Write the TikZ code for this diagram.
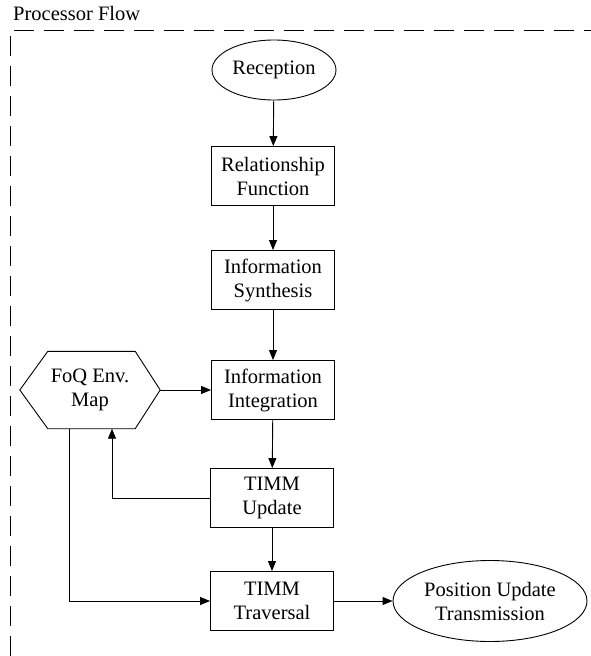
\documentclass[tikz,border=0pt]{standalone}
\usepackage{fontspec}
\setmainfont{Liberation Serif}
\usetikzlibrary{arrows.meta,shapes.geometric}
\begin{document}
\begin{tikzpicture}[x=1pt,y=-1pt,
  every node/.style={font=\fontsize{20.5}{24}\selectfont, align=center},
  stepbox/.style={draw, line width=0.9pt, minimum width=123pt, minimum height=59pt, inner sep=1pt},
  terminal/.style={draw, ellipse, line width=0.9pt, inner sep=0pt},
  flow/.style={draw, line width=0.9pt, -{Triangle[length=10pt,width=8pt]}},
  frame/.style={line width=0.9pt, dash pattern=on 20pt off 10pt}
]
\useasboundingbox (0,0) rectangle (591,656);

% dashed enclosure
\draw[frame] (14,30) -- (591,30);
\draw[frame] (10,36) -- (10,656);
\node[anchor=west, inner sep=0pt] (title) at (13,13) {Processor Flow};

% nodes
\node[terminal, minimum width=124pt, minimum height=60pt] (rec) at (274,70) {Reception};
\node[stepbox] (rel) at (273,176) {Relationship\\Function};
\node[stepbox] (syn) at (273,280) {Information\\Synthesis};
\node[stepbox] (int) at (273,390) {Information\\Integration};
\node[stepbox] (upd) at (272,498) {TIMM\\Update};
\node[stepbox] (trav) at (272,601) {TIMM\\Traversal};
\node[terminal, minimum width=194pt, minimum height=81pt] (pos) at (490,601) {Position Update\\Transmission};

% hexagonal map store
\node[minimum width=140pt, minimum height=77pt, inner sep=0pt] (map) at (90,390) {FoQ Env.\\Map};
\draw[line width=0.9pt] (map.west) -- ([xshift=28pt]map.north west) -- ([xshift=-25pt]map.north east)
  -- (map.east) -- ([xshift=-25pt]map.south east) -- ([xshift=28pt]map.south west) -- cycle;

% connectors
\draw[flow] (rec) -- (rel);
\draw[flow] (rel) -- (syn);
\draw[flow] (syn) -- (int);
\draw[flow] (int) -- (upd);
\draw[flow] (upd) -- (trav);
\draw[flow] (map.east) -- (int.west);
\draw[flow] (upd.west) -| ([xshift=22pt]map.south);
\draw[flow] ([xshift=-21pt]map.south) |- (trav.west);
\draw[flow] (trav.east) -- (pos.west);
\end{tikzpicture}
\end{document}
